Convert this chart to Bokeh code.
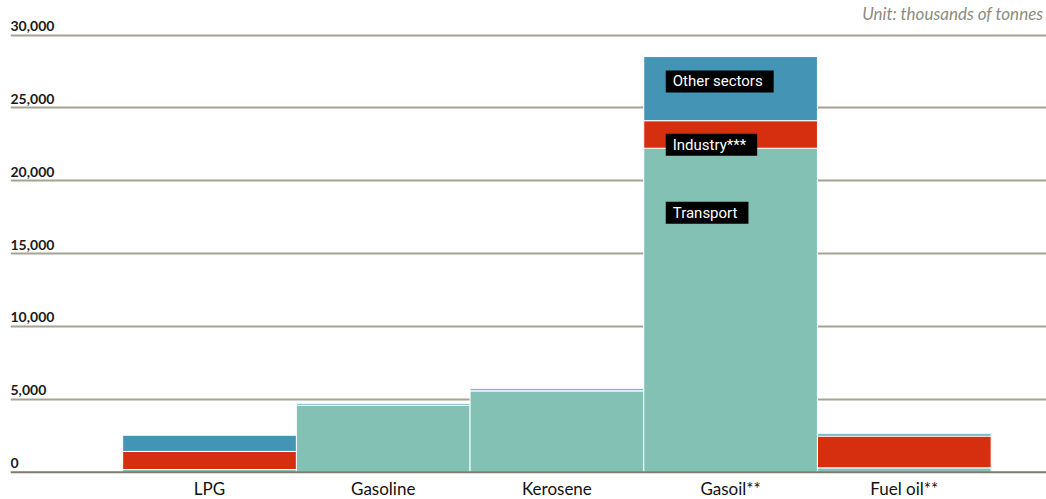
from bokeh.plotting import figure
from bokeh.models import Range1d, FixedTicker, Span, Label, ColumnDataSource
from bokeh.core.properties import value
from bokeh.embed import file_html
from bokeh.resources import INLINE

categories = ["LPG", "Gasoline", "Kerosene", "Gasoil**", "Fuel oil**"]
transport = [185, 4590, 5590, 22230, 300]
industry = [1240, 0, 0, 1890, 2180]
other = [1110, 105, 130, 4400, 155]
sectors = ["transport", "industry", "other"]
sector_labels = ["Transport", "Industry***", "Other sectors"]
sector_label_y = [17800, 22470, 26810]
y_ticks = [0, 5000, 10000, 15000, 20000, 25000, 30000]
unit_text = "Unit: thousands of tonnes"

colors = ["#84c1b5", "#d62f10", "#4495b5"]

xs = list(range(len(categories)))
src = ColumnDataSource(dict(x=xs, cat=categories, transport=transport,
                            industry=industry, other=other,
                            zero=[0] * len(categories)))

X0, X1 = -1.1457, 4.8187
p = figure(width=1046, height=499, output_backend="svg", toolbar_location=None,
           x_range=Range1d(X0, X1), y_range=Range1d(-1873, 32368),
           x_axis_location=None, y_axis_location=None,
           min_border_left=10, min_border_right=0, min_border_top=0, min_border_bottom=0)
p.outline_line_color = None
p.background_fill_color = "white"
p.border_fill_color = "white"
p.xgrid.grid_line_color = None
p.ygrid.ticker = FixedTicker(ticks=[t for t in y_ticks if t > 0])
p.ygrid.grid_line_color = "#a3a394"
p.ygrid.grid_line_width = 2

p.vbar_stack(sectors, x="x", width=1.0, source=src, color=colors,
             line_color="white", line_width=1)

p.add_layout(Span(location=0, dimension="width", line_color="#7d796d", line_width=2))

# y tick labels
tick_src = ColumnDataSource(dict(x=[X0] * len(y_ticks), y=y_ticks,
                                 t=[f"{v:,}" for v in y_ticks]))
p.text(x="x", y="y", text="t", source=tick_src, text_align="left",
       text_baseline="alphabetic", y_offset=-9, text_font=value("Lato"),
       text_font_size="14px", text_font_style="bold", text_color="#1a1a1a")

# category labels
p.text(x="x", y="zero", text="cat", source=src, text_align="center",
       text_baseline="alphabetic", y_offset=16, text_font=value("Lato"),
       text_font_size="17px", text_color="#111111")

# unit note
p.add_layout(Label(x=X1, y=31221, x_offset=-3, y_offset=4, text=unit_text,
                   text_align="right", text_baseline="alphabetic", text_font="Lato",
                   text_font_style="italic", text_font_size="17px",
                   text_color="#8c8c80"))

# sector labels inside the Gasoil bar
gi = categories.index("Gasoil**")
for lab, yv in zip(sector_labels, sector_label_y):
    p.add_layout(Label(x=gi - 0.5, y=yv, x_offset=22, text=lab,
                       text_align="left", text_baseline="middle",
                       text_font="Roboto", text_font_size="15px",
                       text_color="white", background_fill_color="black",
                       padding=(7, 11, 2, 2)))

open("out.html", "w").write(file_html(p, INLINE))
